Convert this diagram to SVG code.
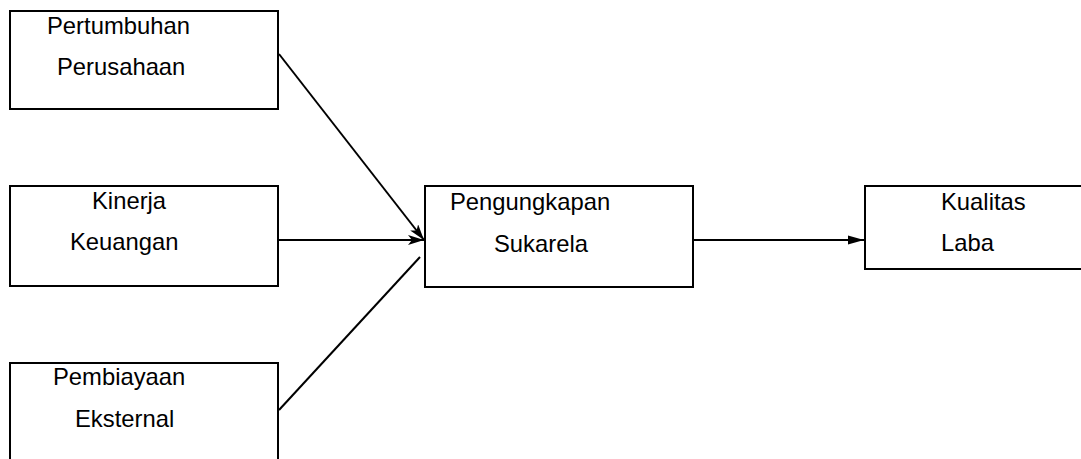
<svg xmlns="http://www.w3.org/2000/svg" width="1081" height="459" viewBox="0 0 1081 459">
<style>
.box{fill:#fff;stroke:#000;stroke-width:2}
.t{font-family:"Liberation Sans",Arial,sans-serif;font-size:23.8px;fill:#000}
.c{stroke:#000;stroke-width:2;fill:none}
</style>
<defs>
<marker id="ah" markerWidth="16" markerHeight="10" refX="16" refY="5" orient="auto" markerUnits="userSpaceOnUse">
<path d="M0,0 L16,5 L0,10 L4,5 Z" fill="#000"/>
</marker>
<marker id="ah2" markerWidth="16" markerHeight="10" refX="16" refY="5" orient="auto" markerUnits="userSpaceOnUse">
<path d="M0,0.5 L16,5 L0,9.5 Z" fill="#000"/>
</marker>
</defs>
<rect width="1081" height="459" fill="#fff"/>
<g id="n1"><rect class="box" x="10" y="11" width="268" height="98"/><text class="t" x="47" y="34">Pertumbuhan</text><text class="t" x="57" y="75">Perusahaan</text></g>
<g id="n2"><rect class="box" x="10" y="186" width="268" height="100"/><text class="t" x="92" y="209">Kinerja</text><text class="t" x="70" y="250">Keuangan</text></g>
<g id="n3"><rect class="box" x="10" y="363" width="268" height="110"/><text class="t" x="53" y="385">Pembiayaan</text><text class="t" x="75" y="427">Eksternal</text></g>
<g id="n4"><rect class="box" x="425" y="186" width="268" height="101"/><text class="t" x="450" y="210">Pengungkapan</text><text class="t" x="494" y="252">Sukarela</text></g>
<g id="n5"><rect class="box" x="865" y="186" width="230" height="83"/><text class="t" x="941" y="210">Kualitas</text><text class="t" x="941" y="251">Laba</text></g>
<g id="connectors">
<line class="c" x1="279" y1="54" x2="424" y2="240" marker-end="url(#ah)"/>
<line class="c" x1="279" y1="240" x2="424" y2="240" marker-end="url(#ah)"/>
<line class="c" x1="279" y1="410" x2="420" y2="257"/>
<line class="c" x1="694" y1="240" x2="864" y2="240" marker-end="url(#ah2)"/>
</g>
</svg>
